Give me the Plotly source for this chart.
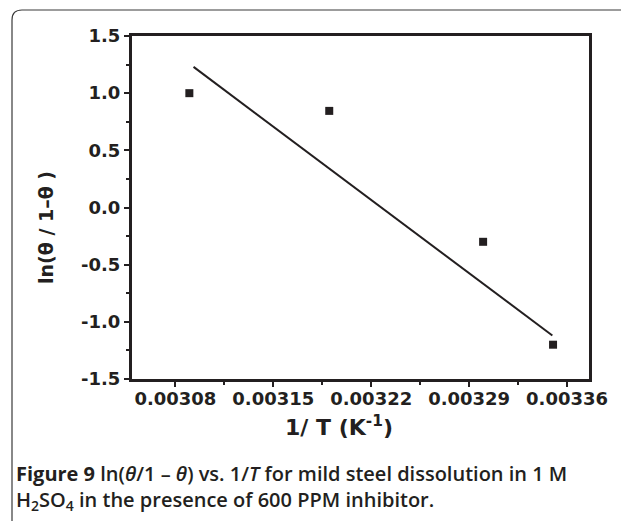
import plotly.graph_objects as go

# ---- data ----
inv_T = [0.00309, 0.00319, 0.00330, 0.00335]
ln_theta = [1.00, 0.845, -0.30, -1.20]
fit_x = [0.003093, 0.0033495]
fit_y = [1.23, -1.12]

x_tick_vals = [0.00308, 0.00315, 0.00322, 0.00329, 0.00336]
x_tick_text = ["0.00308", "0.00315", "0.00322", "0.00329", "0.00336"]
y_tick_vals = [-1.5, -1.0, -0.5, 0.0, 0.5, 1.0, 1.5]
y_tick_text = ["-1.5", "-1.0", "-0.5", "0.0", "0.5", "1.0", "1.5"]

W, H = 621, 521
L, R, T, B = 132, 32, 36, 142
pw, ph = W - L - R, H - T - B

def px(x):
    return (x - L) / pw

def py(y):
    return (H - B - y) / ph

fig = go.Figure()
fig.add_trace(go.Scatter(x=fit_x, y=fit_y, mode="lines",
                         line=dict(color="#231f20", width=2), showlegend=False))
fig.add_trace(go.Scatter(x=inv_T, y=ln_theta, mode="markers",
                         marker=dict(symbol="square", size=8, color="#231f20"),
                         showlegend=False))

tickfont = dict(family="DejaVu Sans", size=18, color="#231f20", weight="bold")
fig.update_xaxes(range=[0.003049, 0.0033757], tickvals=x_tick_vals, ticktext=x_tick_text,
                 showline=True, linewidth=3, linecolor="#231f20", mirror=True,
                 ticks="outside", ticklen=5, tickwidth=2, tickcolor="#231f20",
                 ticklabelstandoff=-4,
                 minor=dict(ticks="outside", ticklen=3, tickwidth=2, tickcolor="#231f20",
                            tick0=0.003045, dtick=0.00007),
                 showgrid=False, zeroline=False, tickfont=tickfont)
fig.update_yaxes(range=[-1.5, 1.5], tickvals=y_tick_vals, ticktext=y_tick_text,
                 showline=True, linewidth=3, linecolor="#231f20", mirror=True,
                 ticks="outside", ticklen=5, tickwidth=2, tickcolor="#231f20",
                 minor=dict(ticks="outside", ticklen=3, tickwidth=2, tickcolor="#231f20",
                            tick0=-1.25, dtick=0.5),
                 showgrid=False, zeroline=False, tickfont=tickfont)

titlefont = dict(family="DejaVu Sans", size=22, color="#231f20", weight="bold")
annotations = [
    dict(x=px(339), y=py(426), xref="paper", yref="paper", showarrow=False,
         text="1/ T (K<sup>-1</sup>)", font=titlefont, xanchor="center", yanchor="middle"),
    dict(x=px(46), y=py(228), xref="paper", yref="paper", showarrow=False,
         text="ln(θ / 1–θ )", font=dict(family="DejaVu Sans", size=19, color="#231f20", weight="bold"),
         textangle=-90, xanchor="center", yanchor="middle"),
    dict(x=px(14), y=py(487), xref="paper", yref="paper", showarrow=False, align="left",
         text="<b>Figure 9</b> ln(<i>θ</i>/1 – <i>θ</i>) vs. 1/<i>T</i> for mild steel dissolution in 1 M<br>"
              "H<sub>2</sub>SO<sub>4</sub> in the presence of 600 PPM inhibitor.",
         font=dict(family="Open Sans", size=20, color="#231f20", weight=600),
         xanchor="left", yanchor="middle"),
]

x0, y0, r = 12, 10, 10
path = (f"M {px(x0)},{py(H)} L {px(x0)},{py(y0 + r)} "
        f"Q {px(x0)},{py(y0)} {px(x0 + r)},{py(y0)} L {px(W + 5)},{py(y0)}")
fig.add_shape(type="path", path=path, xref="paper", yref="paper",
              line=dict(color="#3a3a3a", width=1.2))

fig.update_layout(width=W, height=H, margin=dict(l=L, r=R, t=T, b=B),
                  plot_bgcolor="white", paper_bgcolor="white",
                  annotations=annotations)
fig.write_html("out.html")
